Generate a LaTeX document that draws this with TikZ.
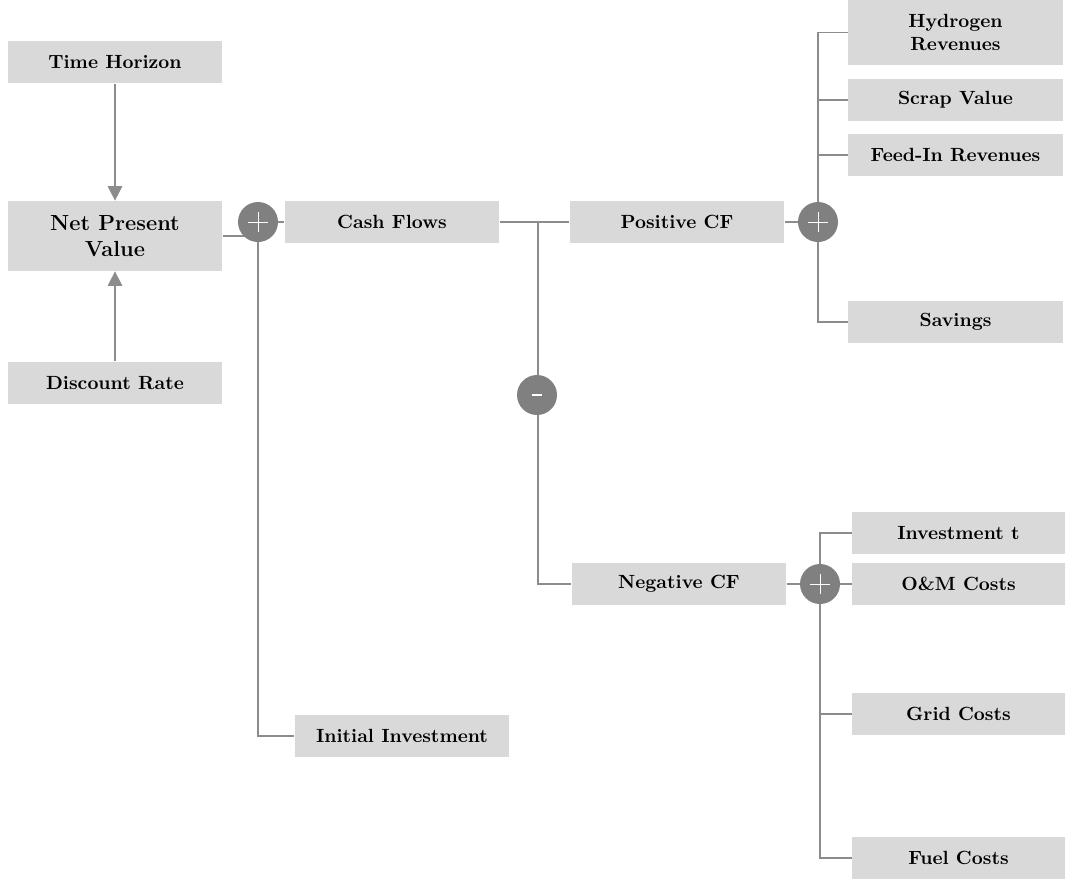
\documentclass[tikz,border=0pt]{standalone}
\usetikzlibrary{arrows.meta,backgrounds}
\definecolor{boxgray}{HTML}{D9D9D9}
\definecolor{linegray}{HTML}{8C8C8C}
\definecolor{circgray}{HTML}{808080}
\begin{document}
\begin{tikzpicture}[x=0.55pt,y=-0.55pt,
  box/.style={fill=boxgray,inner sep=0pt,minimum width=118pt,minimum height=23.3pt,font=\bfseries\fontsize{10.5}{12.6}\selectfont,align=center},
  opnode/.style={circle,fill=circgray,minimum size=22pt,inner sep=0pt},
  conn/.style={draw=linegray,line width=0.8pt},
  arr/.style={conn,-{Triangle[length=8pt,width=8pt]}}]
\useasboundingbox (0,0) rectangle (1065,883);
% left column
\node[box] (th) at (115,62) {Time Horizon};
\node[box,minimum height=38.5pt,font=\bfseries\large] (npv) at (115,236) {Net Present\\Value};
\node[box] (dr) at (115,383) {Discount Rate};
% sum 1
\node[opnode] (p1) at (258,222) {};
\node[box] (cf) at (392,222) {Cash Flows};
\node[box] (ii) at (402,736) {Initial Investment};
% positive / negative
\node[box] (pcf) at (677,222) {Positive CF};
\node[box] (ncf) at (679,584) {Negative CF};
\coordinate (j) at (538,222);
\node[opnode] (m1) at (537,395) {};
% sum 2
\node[opnode] (p2) at (818,222) {};
\node[box,minimum height=35.7pt] (hr) at (955.5,32.5) {Hydrogen\\Revenues};
\node[box] (sv) at (955.5,100) {Scrap Value};
\node[box] (fi) at (955.5,155) {Feed-In Revenues};
\node[box] (sa) at (955.5,322) {Savings};
% sum 3
\node[opnode] (p3) at (820,584) {};
\node[box,minimum width=117pt] (it) at (958.5,533) {Investment t};
\node[box,minimum width=117pt] (om) at (958.5,584) {O\&M Costs};
\node[box,minimum width=117pt] (gc) at (958.5,714) {Grid Costs};
\node[box,minimum width=117pt] (fc) at (958.5,858) {Fuel Costs};
% signs
\foreach \c in {p1,p2,p3}{
  \draw[white,line width=0.5pt] ([xshift=-5.5pt]\c.center) -- ([xshift=5.5pt]\c.center);
  \draw[white,line width=0.5pt] ([yshift=-5.5pt]\c.center) -- ([yshift=5.5pt]\c.center);
}
\draw[white,line width=1.1pt] ([xshift=-2.8pt]m1.center) -- ([xshift=2.8pt]m1.center);
\begin{scope}[on background layer]
  \draw[arr] (th.south) -- (npv.north);
  \draw[arr] (dr.north) -- (npv.south);
  \draw[conn] (npv.east) -- (npv.east -| p1.center);
  \draw[conn] (p1.center) -- (cf.west);
  \draw[conn] (p1.center) |- (ii.west);
  \draw[conn] (cf.east) -- (pcf.west);
  \draw[conn] (j) |- (ncf.west);
  \draw[conn] (pcf.east) -- (p2.center);
  \draw[conn] (p2.center) |- (hr.west);
  \draw[conn] (p2.center) |- (sv.west);
  \draw[conn] (p2.center) |- (fi.west);
  \draw[conn] (p2.center) |- (sa.west);
  \draw[conn] (ncf.east) -- (p3.center);
  \draw[conn] (p3.center) |- (it.west);
  \draw[conn] (p3.center) |- (om.west);
  \draw[conn] (p3.center) |- (gc.west);
  \draw[conn] (p3.center) |- (fc.west);
\end{scope}
\end{tikzpicture}
\end{document}
